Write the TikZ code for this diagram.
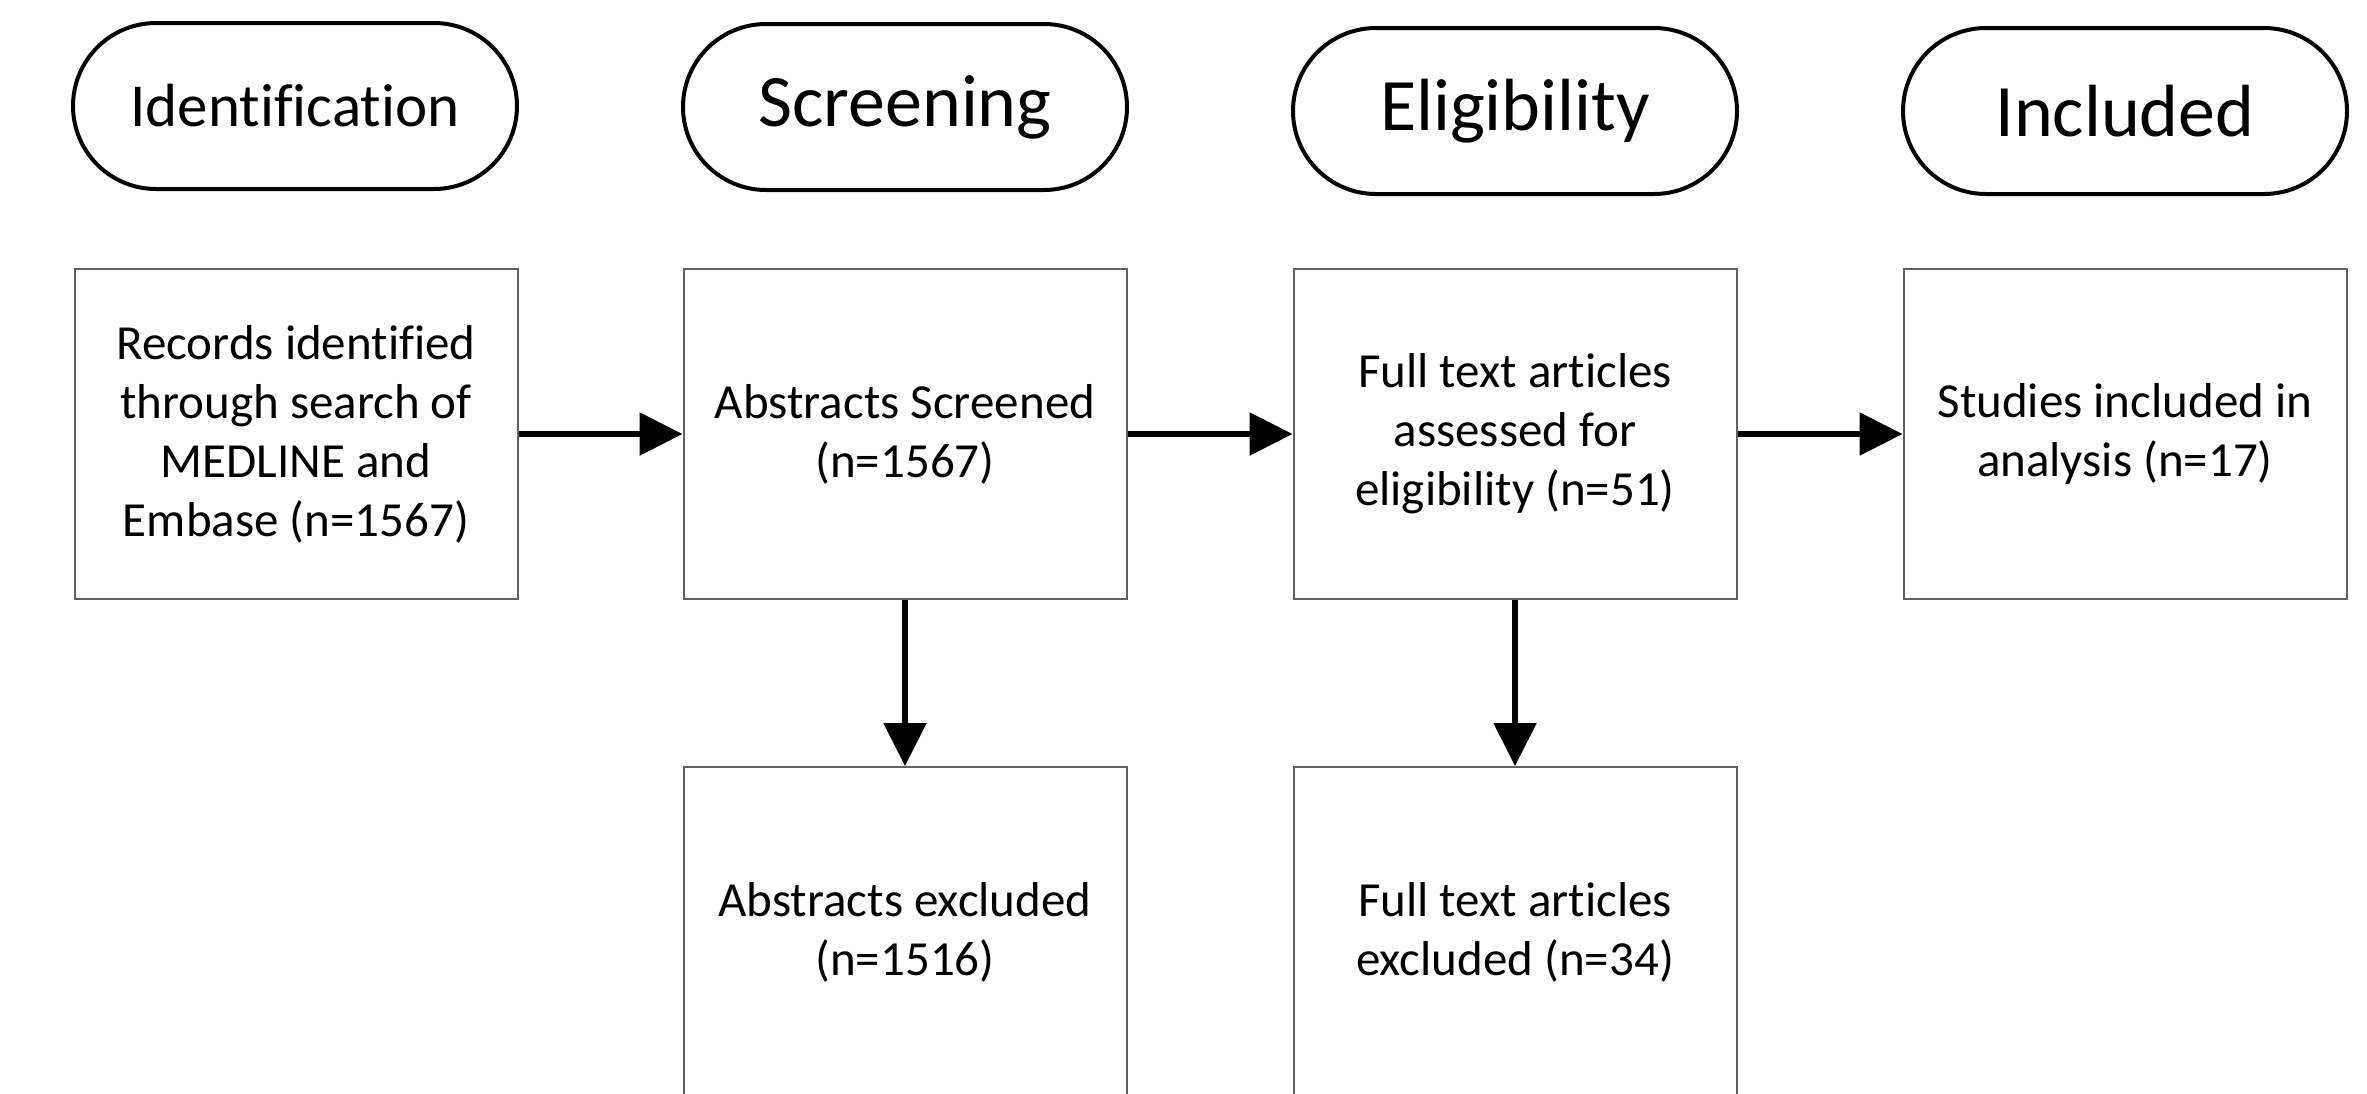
\documentclass[tikz,border=0pt]{standalone}
\usepackage{fontspec}
\setmainfont{Carlito}[Ligatures=NoCommon]
\usetikzlibrary{arrows.meta}
\begin{document}
\begin{tikzpicture}[x=1pt,y=-1pt,
  phase/.style={draw=black,line width=4pt,rounded corners=83pt,
    minimum width=444pt,minimum height=166pt,inner sep=0pt,
    font=\fontsize{74}{88}\selectfont},
  stepbox/.style={draw=black!62,line width=2pt,
    minimum width=443pt,minimum height=330pt,inner sep=0pt,
    align=center,font=\fontsize{49}{59}\selectfont},
  flow/.style={line width=5.5pt,-{Triangle[length=43pt,width=42pt]}}]
\useasboundingbox (0,0) rectangle (2367,1093);
% phase labels
\node[phase,font=\fontsize{61}{73}\selectfont] (pid) at (295,106) {Identification};
\node[phase] (psc) at (905,107) {Screening};
\node[phase] (pel) at (1515,111) {Eligibility};
\node[phase] (pin) at (2125,111) {Included};
% main row
\node[stepbox] (rec) at (296,434) {Records identified\\through search of\\MEDLINE and\\Embase (n=1567)};
\node[stepbox] (abs) at (905,434) {Abstracts Screened\\(n=1567)};
\node[stepbox] (ful) at (1515,434) {Full text articles\\assessed for\\eligibility (n=51)};
\node[stepbox] (stu) at (2125,434) {Studies included in\\analysis (n=17)};
% exclusions
\node[stepbox] (abx) at (905,932) {Abstracts excluded\\(n=1516)};
\node[stepbox] (fux) at (1515,932) {Full text articles\\excluded (n=34)};
% connectors
\draw[flow] (rec.east) -- (abs.west);
\draw[flow] (abs.east) -- (ful.west);
\draw[flow] (ful.east) -- (stu.west);
\draw[flow] (abs.south) -- (abx.north);
\draw[flow] (ful.south) -- (fux.north);
\end{tikzpicture}
\end{document}
